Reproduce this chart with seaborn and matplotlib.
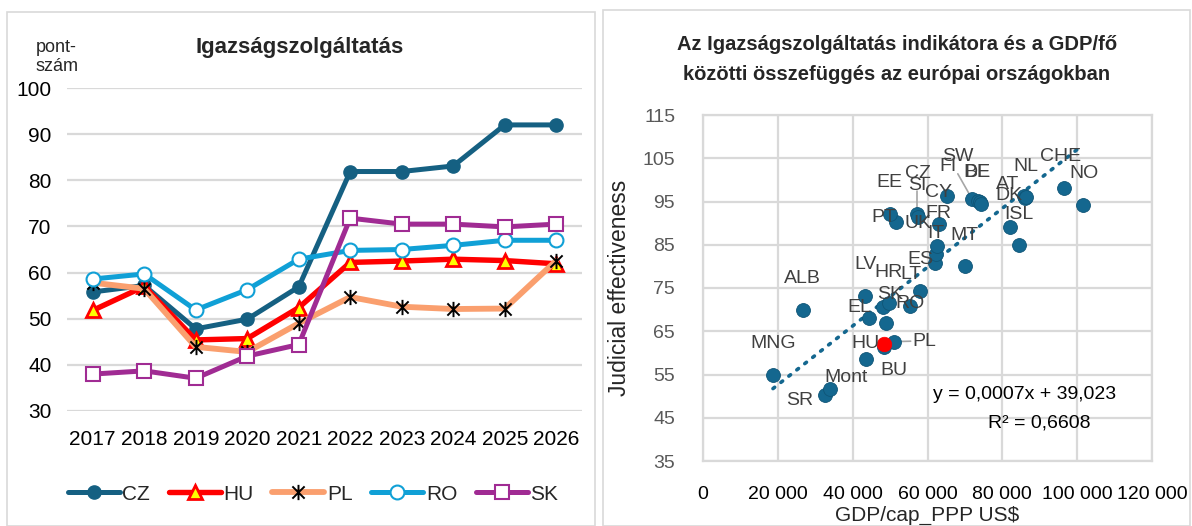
import numpy as np
import pandas as pd
import seaborn as sns
import matplotlib
matplotlib.use("Agg")
import matplotlib.pyplot as plt
from matplotlib.path import Path
from matplotlib.patches import Rectangle
from matplotlib.ticker import FuncFormatter, MultipleLocator

# ---------------- data: left chart ----------------
years = [2017, 2018, 2019, 2020, 2021, 2022, 2023, 2024, 2025, 2026]
cz = [55.8, 57.2, 47.8, 49.9, 56.9, 81.9, 81.9, 83.1, 92.0, 92.0]
hu = [51.8, 57.0, 45.4, 45.7, 52.4, 62.2, 62.5, 62.9, 62.6, 61.9]
pl = [57.8, 56.5, 43.9, 42.8, 49.0, 54.7, 52.6, 52.1, 52.2, 62.6]
ro = [58.6, 59.7, 51.9, 56.3, 62.9, 64.8, 65.0, 65.9, 67.0, 67.0]
sk = [38.0, 38.7, 37.1, 41.9, 44.4, 71.8, 70.5, 70.5, 69.9, 70.5]

# ---------------- data: right chart ----------------
countries = ["MNG", "SR", "Mont", "ALB", "BU", "HU", "PL", "EL", "", "LV", "SK", "HR",
             "RO", "LT", "ES", "IT", "UK", "FR", "MT", "PT", "EE", "CZ", "SI", "CY",
             "FI", "SW", "BE", "DE", "ISL", "", "AT", "DK", "NL", "CHE", "NO"]
gdp_cap = [18700, 32700, 34000, 26600, 43600, 48400, 51100, 44300, 49000, 43400, 48000, 49600,
           55200, 58000, 62100, 62200, 62600, 63000, 69900, 51700, 49900, 57100, 57400, 65300,
           71900, 73500, 74000, 74300, 82000, 84500, 85700, 86000, 86300, 96500, 101500]
judicial = [55.0, 50.2, 51.7, 69.9, 58.6, 61.4, 62.6, 68.0, 67.0, 73.2, 70.5, 71.6,
            70.9, 74.4, 80.8, 82.9, 84.6, 89.9, 80.1, 90.2, 92.2, 92.1, 91.5, 96.3,
            95.6, 95.1, 94.8, 94.5, 89.2, 84.9, 96.2, 95.9, 96.1, 98.2, 94.2]
hu_highlight_gdp = [48400]
hu_highlight_je = [62.0]
# trend line as drawn in the reference (printed equation is rounded)
trend_slope = 0.00068
trend_intercept = 39.023
trend_text = "y = 0,0007x + 39,023"
r2_text = "R² = 0,6608"

# label offsets (data units) relative to each point
label_offset = {
    "MNG": (0, 7.2), "SR": (-6900, -1.1), "Mont": (4300, 2.5), "ALB": (0, 7.2),
    "BU": (7300, -2.7), "HU": (-5000, 0.8), "PL": (8000, 0.1), "EL": (-2400, 2.5),
    "LV": (0, 7.2), "SK": (2100, 3.0), "HR": (0, 7.0), "RO": (200, 0.6),
    "LT": (-2500, 3.8), "ES": (-4100, 0.9), "IT": (-50, 4.6), "UK": (-5200, 5.2),
    "FR": (-200, 2.3), "MT": (0, 7.0), "PT": (-3400, 1.0), "EE": (0, 7.2),
    "CZ": (300, 9.4), "SI": (-100, 7.1), "CY": (-2300, 0.8), "FI": (-6400, 7.6),
    "SW": (-5500, 10.4), "BE": (-700, 6.9), "DE": (-1000, 7.2), "ISL": (2500, 2.9),
    "AT": (-4400, 2.8), "DK": (-4200, 0.4), "NL": (0, 7.1), "CHE": (-900, 7.3),
    "NO": (300, 7.3),
}
leaders = {"CZ": (0, 5.4), "FI": (-3800, 5.8), "PL": (4400, 0.1)}

# ---------------- style ----------------
sns.set_theme(style="white")
plt.rcParams["font.family"] = ["Liberation Sans", "DejaVu Sans"]

fig = plt.figure(figsize=(11.92, 5.26), dpi=100)
W, H = 1192, 526


def fx(px):
    return px / W


def fy(py):
    return 1 - py / H


# chart frames
fig.add_artist(Rectangle((fx(7), fy(526)), fx(595) - fx(7), fy(12) - fy(526),
                         transform=fig.transFigure, fill=False, edgecolor="#D9D9D9", lw=1.2))
fig.add_artist(Rectangle((fx(603), fy(526)), fx(1190) - fx(603), fy(10) - fy(526),
                         transform=fig.transFigure, fill=False, edgecolor="#D9D9D9", lw=1.2))

# ---------------- left chart ----------------
axL = fig.add_axes([fx(67), fy(411), fx(582) - fx(67), fy(88) - fy(411)])
grid_c = "#D9D9D9"

star = Path([(-1, -1), (1, 1), (-1, 1), (1, -1), (0, -1.25), (0, 1.25)],
            [Path.MOVETO, Path.LINETO, Path.MOVETO, Path.LINETO, Path.MOVETO, Path.LINETO])

series = [
    ("CZ", cz, dict(color="#156082", lw=3.6, marker="o", ms=9.5, mfc="#156082", mec="#156082", mew=1)),
    ("HU", hu, dict(color="#FF0000", lw=3.9, marker="^", ms=10, mfc="#FFFF00", mec="#FF0000", mew=2)),
    ("PL", pl, dict(color="#FA9F6E", lw=4.2, marker=star, ms=11, mfc="none", mec="black", mew=1.4)),
    ("RO", ro, dict(color="#10A0D6", lw=3.6, marker="o", ms=10, mfc="white", mec="#10A0D6", mew=1.5)),
    ("SK", sk, dict(color="#A02B93", lw=3.6, marker="s", ms=10, mfc="white", mec="#A02B93", mew=1.5)),
]
for i, (name, vals, st) in enumerate(series):
    df = pd.DataFrame({"year": years, "value": vals})
    sns.lineplot(data=df, x="year", y="value", ax=axL, label=name, color=st["color"],
                 linewidth=st["lw"], marker=st["marker"], markersize=st["ms"],
                 markerfacecolor=st["mfc"], markeredgecolor=st["mec"], markeredgewidth=st["mew"],
                 zorder=3 + i)

axL.set_xlim(years[0] - 0.5, years[-1] + 0.5)
axL.set_ylim(30, 100)
axL.yaxis.set_major_locator(MultipleLocator(10))
axL.set_xticks(years)
axL.set_xticklabels([str(y) for y in years])
axL.grid(axis="y", color=grid_c, lw=1.6)
axL.grid(axis="x", visible=False)
for s in axL.spines.values():
    s.set_visible(False)
axL.tick_params(axis="both", length=0, labelsize=15, colors="black")
axL.tick_params(axis="x", pad=14)
axL.tick_params(axis="y", pad=11)
axL.set_xlabel("")
axL.set_ylabel("")
axL.legend_.remove()
handles, labels = axL.get_legend_handles_labels()
fig.legend(handles, labels, loc="center", bbox_to_anchor=(fx(313), fy(494)), ncol=5,
           frameon=False, fontsize=15, handlelength=2.5, columnspacing=0.9, handletextpad=0.12)
fig.text(fx(300), fy(47), "Igazságszolgáltatás", ha="center", va="center",
         fontsize=16, fontweight="bold")
fig.text(fx(36), fy(57), "pont-\nszám", ha="left", va="center", fontsize=13, linespacing=1.2)

# ---------------- right chart ----------------
axR = fig.add_axes([fx(703), fy(461), fx(1152) - fx(703), fy(115) - fy(461)])
dot_c = "#14678F"
sdf = pd.DataFrame({"gdp": gdp_cap, "je": judicial})
sns.scatterplot(data=sdf, x="gdp", y="je", ax=axR, s=100, color=dot_c,
                edgecolor="#0F5577", linewidth=0.6, zorder=4)
sns.scatterplot(x=hu_highlight_gdp, y=hu_highlight_je, ax=axR, s=110, color="#FF0000",
                edgecolor="#FF0000", linewidth=0.5, zorder=5)

xt = np.array([min(gdp_cap), max(gdp_cap)])
axR.plot(xt, trend_slope * xt + trend_intercept, color=dot_c, lw=2.6,
         linestyle=(0, (0.6, 2.2)), dash_capstyle="round", zorder=3)

for name, x, y in zip(countries, gdp_cap, judicial):
    if not name:
        continue
    dx, dy = label_offset[name]
    axR.text(x + dx, y + dy, name, ha="center", va="center", fontsize=14,
             color="#404040", zorder=6)
    if name in leaders:
        lx, ly = leaders[name]
        axR.plot([x + lx, x], [y + ly, y], color="#A6A6A6", lw=1.2, zorder=3)

axR.text(86000, 50.3, trend_text, ha="center", va="center", fontsize=14, color="black")
axR.text(90000, 43.8, r2_text, ha="center", va="center", fontsize=14, color="black")

axR.set_xlim(0, 120000)
axR.set_ylim(35, 115)
axR.set_xticks(np.arange(0, 120001, 20000))
axR.set_yticks(np.arange(35, 116, 10))
axR.xaxis.set_major_formatter(FuncFormatter(lambda v, p: f"{int(v):,}".replace(",", " ")))
axR.grid(True, color=grid_c, lw=1.6)
for s in axR.spines.values():
    s.set_color(grid_c)
    s.set_linewidth(1.6)
axR.tick_params(axis="both", length=0, labelsize=14)
axR.tick_params(axis="y", colors="#595959", pad=20)
axR.tick_params(axis="x", colors="black", pad=18)
axR.set_xlabel("GDP/cap_PPP US$", fontsize=15, labelpad=2)
axR.set_ylabel("Judicial effectiveness", fontsize=16.5, labelpad=8)
fig.text(fx(897), fy(45), "Az Igazságszolgáltatás indikátora és a GDP/fő", ha="center",
         va="center", fontsize=14.5, fontweight="bold")
fig.text(fx(897), fy(75), "közötti összefüggés az európai országokban", ha="center",
         va="center", fontsize=14.5, fontweight="bold")

fig.savefig("out.png", dpi=100)
